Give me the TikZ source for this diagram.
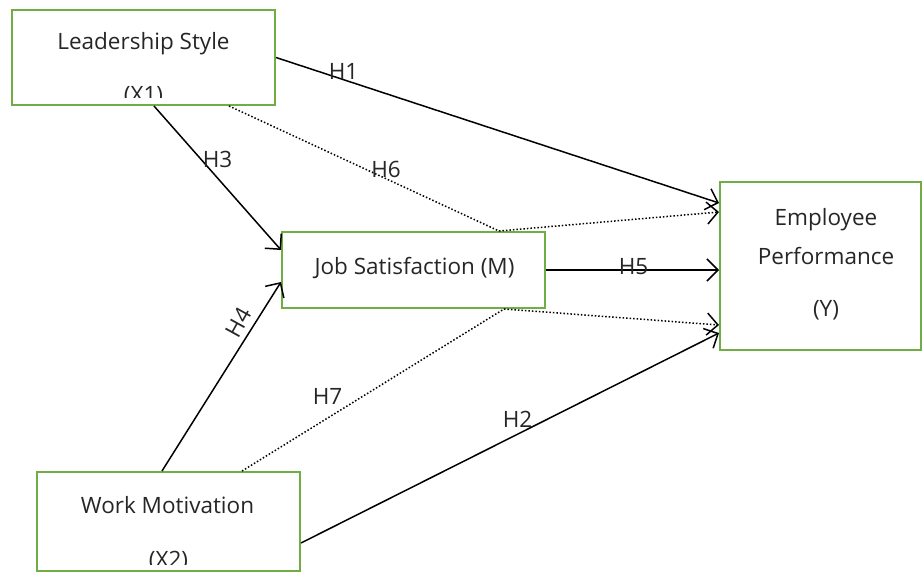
\documentclass[tikz,border=0pt]{standalone}
\usepackage{fontspec}
\setmainfont{Open Sans}
\usetikzlibrary{arrows.meta,calc}
\definecolor{boxgreen}{HTML}{70AD47}
\begin{document}
\begin{tikzpicture}[x=1pt,y=-1pt,
  box/.style={draw=boxgreen,line width=2pt,rectangle,inner sep=0pt},
  txt/.style={inner sep=0pt,anchor=base,font=\fontsize{22.5}{26}\selectfont,text=black!85},
  lbl/.style={inner sep=0pt,anchor=base,font=\fontsize{22.5}{26}\selectfont,text=black!85},
  conn/.style={line width=1.5pt,-{Straight Barb[length=11pt,width=22pt,line width=1.5pt]}},
  dotconn/.style={conn,dotted},
  dotline/.style={line width=1.5pt,dotted}]
\useasboundingbox (0,0) rectangle (922,572);
\fill[white] (0,0) rectangle (922,572);
% boxes
\node[box,minimum width=263pt,minimum height=95pt] (ls) at (143.5,57.5) {};
\node[box,minimum width=263pt,minimum height=76pt] (js) at (413.5,270) {};
\node[box,minimum width=201pt,minimum height=168pt] (ep) at (820.5,266) {};
\node[box,minimum width=263pt,minimum height=99pt] (wm) at (168.5,521.5) {};
% texts
\node[txt] (lst) at (143.5,49.5) {Leadership Style};
\begin{scope}
\clip ($(ls.south west)+(1,-8)$) rectangle ($(ls.north east)+(-1,1)$);
\node[txt] (lsx) at (143.5,103) {(X1)};
\end{scope}
\node[txt] (jst) at (414.5,275) {Job Satisfaction (M)};
\node[txt] (ep1) at (826,226) {Employee};
\node[txt] (ep2) at (826,265) {Performance};
\node[txt] (ep3) at (826,317) {(Y)};
\node[txt] (wmt) at (167.5,513) {Work Motivation};
\begin{scope}
\clip ($(wm.south west)+(1,-8)$) rectangle ($(wm.north east)+(-1,1)$);
\node[txt] (wmx) at (168.5,567) {(X2)};
\end{scope}
% connectors
\draw[conn] (ls.east) -- ($(ep.west)+(0,-63)$);
\draw[conn] ($(ls.south west)+(143,0)$) -- ($(js.west)+(0,-20)$);
\draw[dotline] ($(ls.south west)+(218,0)$) -- ($(js.north west)+(218,0)$);
\draw[dotconn] ($(js.north west)+(218,0)$) -- ($(ep.west)+(0,-54)$);
\draw[conn] (js.east) -- (js.east -| ep.west);
\draw[dotline] ($(wm.north west)+(206,0)$) -- ($(js.south west)+(223,0)$);
\draw[dotconn] ($(js.south west)+(223,0)$) -- ($(ep.west)+(0,59)$);
\draw[conn] ($(wm.north west)+(126,0)$) -- ($(js.west)+(0,12)$);
\draw[conn] ($(wm.east)+(0,21.5)$) -- ($(ep.west)+(0,67)$);
% labels
\node[lbl] (h1) at (343.5,80) {H1};
\node[lbl] (h3) at (217.5,168) {H3};
\node[lbl] (h6) at (386,178) {H6};
\node[lbl] (h5) at (633.5,275) {H5};
\node[lbl] (h7) at (327.5,404) {H7};
\node[lbl,anchor=center,rotate=61] (h4) at (239,322.5) {H4};
\node[lbl] (h2) at (517.5,428) {H2};
\end{tikzpicture}
\end{document}
